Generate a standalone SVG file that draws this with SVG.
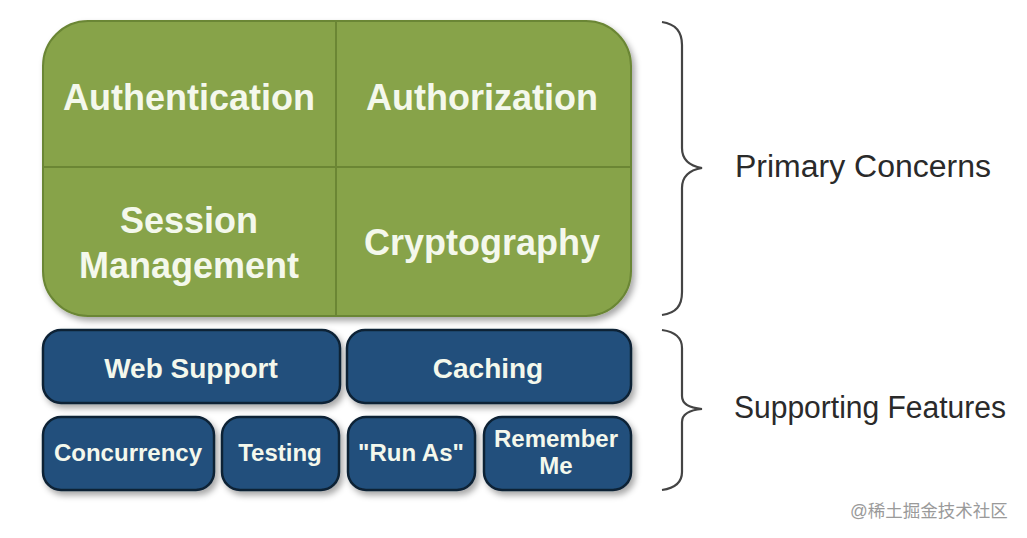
<svg xmlns="http://www.w3.org/2000/svg" width="1027" height="538" viewBox="0 0 1027 538">
<defs>
<filter id="sh" x="-10%" y="-10%" width="125%" height="130%">
<feDropShadow dx="3" dy="4" stdDeviation="3" flood-color="#000" flood-opacity="0.35"/>
</filter>
</defs>
<style>
.green{fill:#87a34a;stroke:#6b8634;stroke-width:2}
.div{stroke:#6b8634;stroke-width:2}
.blue{fill:#21507c;stroke:#0f2236;stroke-width:2.5}
.t{font-family:"Liberation Sans",Arial,sans-serif;font-weight:bold;fill:#f4f8ec;text-anchor:middle}
.big{font-size:36px}
.mid{font-size:28px}
.sm{font-size:24px}
.lab{font-family:"Liberation Sans",Arial,sans-serif;font-size:31px;fill:#2a2a2a}
.brace{fill:none;stroke:#444;stroke-width:2.2}
</style>
<rect width="1027" height="538" fill="#ffffff"/>
<g id="primary">
<rect class="green" x="43" y="21" width="588" height="295" rx="45" ry="45" filter="url(#sh)"/>
<line class="div" x1="336" y1="22" x2="336" y2="315"/>
<line class="div" x1="44" y1="167" x2="630" y2="167"/>
</g>
<g id="authentication"><text class="t big" x="189" y="110">Authentication</text></g>
<g id="authorization"><text class="t big" x="482" y="110">Authorization</text></g>
<g id="session"><text class="t big" x="189" y="233">Session</text><text class="t big" x="189" y="278">Management</text></g>
<g id="cryptography"><text class="t big" x="482" y="255">Cryptography</text></g>
<g id="websupport"><rect class="blue" x="43" y="330" width="297" height="73" rx="18" filter="url(#sh)"/><text class="t mid" x="191" y="378">Web Support</text></g>
<g id="caching"><rect class="blue" x="347" y="330" width="284" height="73" rx="18" filter="url(#sh)"/><text class="t mid" x="488" y="378">Caching</text></g>
<g id="concurrency"><rect class="blue" x="43" y="417" width="171" height="73" rx="18" filter="url(#sh)"/><text class="t sm" x="128" y="461">Concurrency</text></g>
<g id="testing"><rect class="blue" x="222" y="417" width="117" height="73" rx="18" filter="url(#sh)"/><text class="t sm" x="280" y="461">Testing</text></g>
<g id="runas"><rect class="blue" x="348" y="417" width="127" height="73" rx="18" filter="url(#sh)"/><text class="t sm" x="411" y="461">"Run As"</text></g>
<g id="rememberme"><rect class="blue" x="484" y="417" width="147" height="73" rx="18" filter="url(#sh)"/><text class="t sm" x="556" y="447">Remember</text><text class="t sm" x="556" y="474">Me</text></g>
<g id="connectors">
<path class="brace" d="M662,22 C676,24 682,32 682,45 L682,148 C682,160 690,166 702,168 C690,170 682,176 682,188 L682,292 C682,306 676,313 662,315"/>
<path class="brace" d="M662,330 C676,332 682,338 682,348 L682,396 C682,404 690,408 702,409 C690,410 682,414 682,422 L682,472 C682,482 676,488 662,490"/>
</g>
<g id="labels">
<text class="lab" x="735" y="177" textLength="256" lengthAdjust="spacingAndGlyphs">Primary Concerns</text>
<text class="lab" x="734" y="418" textLength="272" lengthAdjust="spacingAndGlyphs">Supporting Features</text>
<text x="850" y="517" font-family="'Liberation Sans','Noto Sans CJK SC',sans-serif" font-size="17.5" fill="#9a9a9a">@稀土掘金技术社区</text>
</g>
</svg>
